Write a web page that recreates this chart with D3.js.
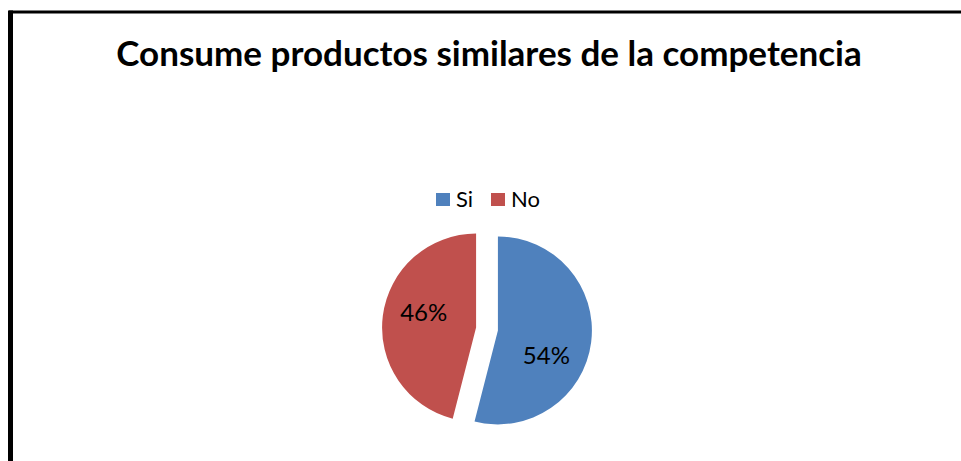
<!DOCTYPE html>
<html>
<head>
<meta charset="utf-8">
<script src="https://cdn.jsdelivr.net/npm/d3@7/dist/d3.min.js"></script>
<style>
  html, body { margin: 0; padding: 0; background: #fff; }
  svg { display: block; }
</style>
</head>
<body>
<svg id="chart" width="961" height="461"></svg>
<script>
// Chart data
const title = "Consume productos similares de la competencia";
const categories = ["Si", "No"];
const values = [54, 46];
const colors = ["#4F81BD", "#C0504D"];

const W = 961, H = 461;
const svg = d3.select("#chart");
const font = "Lato, 'Open Sans', sans-serif";

// Frame (right and bottom edges run past the visible area)
svg.append("rect")
  .attr("x", 10.5).attr("y", 12).attr("width", 990).attr("height", 500)
  .attr("fill", "#fff").attr("stroke", "#000").attr("stroke-width", 3);
svg.append("line")
  .attr("x1", 10.5).attr("x2", 10.5).attr("y1", 10.5).attr("y2", H)
  .attr("stroke", "#000").attr("stroke-width", 5);

// Title
svg.append("text")
  .attr("x", 489).attr("y", 66)
  .attr("text-anchor", "middle")
  .attr("font-family", font).attr("font-weight", "bold")
  .attr("font-size", 35)
  .attr("fill", "#000")
  .text(title);

// Legend
const legend = svg.append("g").attr("transform", "translate(436,193)");
const legendItems = legend.selectAll("g").data(categories).join("g")
  .attr("transform", (d, i) => `translate(${i * 55},0)`);
legendItems.append("rect")
  .attr("width", 14).attr("height", 13)
  .attr("fill", (d, i) => colors[i]);
legendItems.append("text")
  .attr("x", 20).attr("y", 14)
  .attr("font-family", font).attr("font-size", 22)
  .attr("fill", "#000")
  .text(d => d);

// Pie
const cx = 487, cy = 329, r = 94, explode = 11;
const pie = d3.pie().sort(null).value(d => d);
const arcs = pie(values);
const arc = d3.arc().innerRadius(0).outerRadius(r);
const labelShift = [20, 9].map(a => a * Math.PI / 180);

const g = svg.append("g").attr("transform", `translate(${cx},${cy})`);
const slice = g.selectAll("g.slice").data(arcs).join("g")
  .attr("class", "slice")
  .attr("transform", d => {
    const mid = (d.startAngle + d.endAngle) / 2;
    return `translate(${explode * Math.sin(mid)},${-explode * Math.cos(mid)})`;
  });

slice.append("path")
  .attr("d", arc)
  .attr("fill", (d, i) => colors[i]);

slice.append("text")
  .attr("transform", (d, i) => {
    const a = (d.startAngle + d.endAngle) / 2 + labelShift[i];
    const lr = r * 0.58;
    return `translate(${lr * Math.sin(a)},${-lr * Math.cos(a)})`;
  })
  .attr("text-anchor", "middle")
  .attr("dy", "0.35em")
  .attr("font-family", font).attr("font-size", 24)
  .attr("fill", "#000")
  .text(d => d.data + "%");
</script>
</body>
</html>
